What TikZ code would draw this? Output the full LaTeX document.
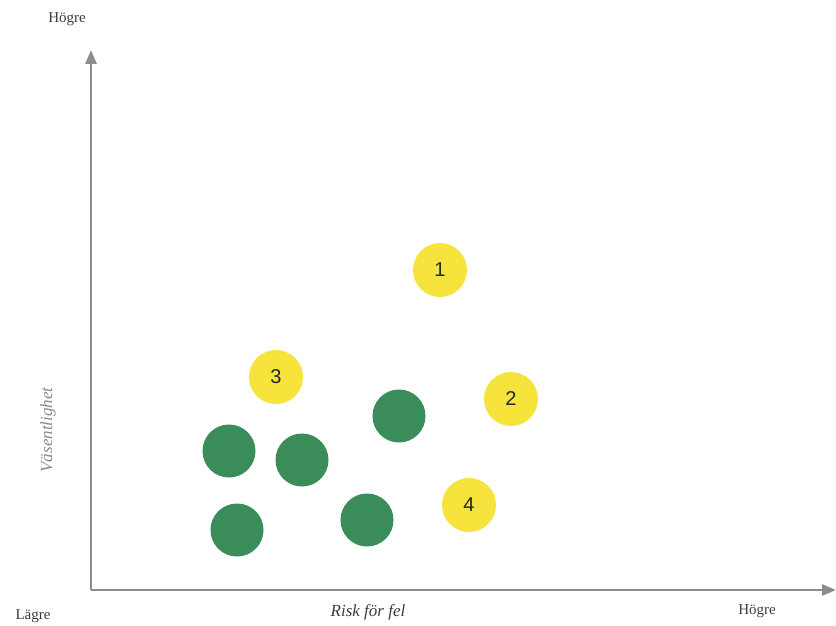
\documentclass[tikz,border=0pt]{standalone}
\usepackage{fontspec}
\setmainfont{Liberation Serif}
\newfontfamily\numfont{Liberation Sans}
\usetikzlibrary{arrows.meta, positioning}
\definecolor{rkyellow}{HTML}{F6E43C}
\definecolor{rkgreen}{HTML}{3A8D58}
\definecolor{rkaxis}{HTML}{8C8C8C}
\definecolor{rktext}{HTML}{3C3C3C}

\begin{document}
\begin{tikzpicture}[
      x=1pt, y=-1pt,
      lbl/.style={font=\fontsize{15}{17}\selectfont, text=rktext, inner sep=0pt},
      ax/.style={-{Triangle[length=14pt,width=11pt]}, rkaxis, line width=2.6pt},
      hit/.style={circle, fill=rkyellow, minimum size=54pt, inner sep=0pt,
                  font=\numfont\fontsize{20}{22}\selectfont, text=black!85},
      ok/.style={circle, fill=rkgreen, minimum size=53pt, inner sep=0pt},
    ]
    \useasboundingbox[fill=white] (0,0) rectangle (836,626);

    % axes
    \coordinate (o) at (91,590);
    \coordinate (top) at (91,50);
    \coordinate (rgt) at (836,590);
    \draw[ax] (o) -- (top);
    \draw[ax] (o) -- (rgt);

    % labels
    \node[lbl] (yhi) at (67,19) {Högre};
    \node[lbl] (xlo) at (33,616) {Lägre};
    \node[lbl] (xhi) at (757,611) {Högre};
    \node[lbl, font=\itshape\fontsize{17}{19}\selectfont] (xlab) at (368,612) {Risk för fel};
    \node[lbl, rotate=90, text=rktext!60, font=\itshape\fontsize{17}{19}\selectfont]
      (ylab) at (48,430) {Väsentlighet};

    % numbered risks
    \node[hit] (r1) at (440,270) {1};
    \node[hit] (r2) at (511,399) {2};
    \node[hit] (r3) at (276,377) {3};
    \node[hit] (r4) at (469,505) {4};

    % other items
    \node[ok] (g1) at (229,451) {};
    \node[ok] (g2) at (302,460) {};
    \node[ok] (g3) at (399,416) {};
    \node[ok] (g4) at (237,530) {};
    \node[ok] (g5) at (367,520) {};
  \end{tikzpicture}
\end{document}
